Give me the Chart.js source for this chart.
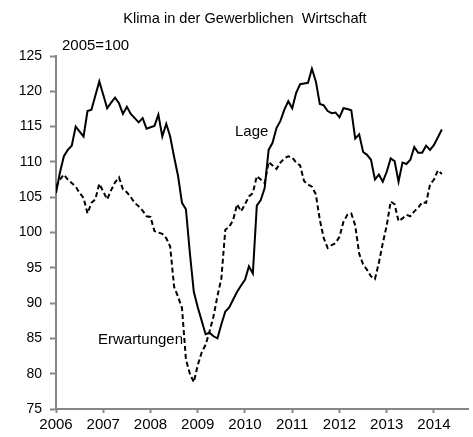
<!DOCTYPE html>
<html>
<head>
<meta charset="utf-8">
<script src="https://cdn.jsdelivr.net/npm/chart.js@4"></script>
<style>
    html, body { margin: 0; padding: 0; background: #fff; }
</style>
</head>
<body>
<canvas id="chart" width="473" height="437"></canvas>
<script>
// monthly index values, Jan 2006 .. Mar 2014 (2005=100)
const startYear = 2006;
const yearTicks = [2006, 2007, 2008, 2009, 2010, 2011, 2012, 2013, 2014];
const lage = [
    105.6, 108.5, 110.8, 111.7, 112.3, 115.0, 114.3, 113.6, 117.2, 117.4, 119.4, 121.4,
    119.5, 117.6, 118.4, 119.1, 118.3, 116.8, 117.8, 116.8, 116.2, 115.6, 116.2, 114.7,
    114.9, 115.1, 116.7, 113.6, 115.4, 113.6, 110.7, 108.0, 104.2, 103.3, 97.1, 91.6,
    89.4, 87.5, 85.6, 85.8, 85.3, 85.0, 87.0, 88.8, 89.4, 90.5, 91.6, 92.5,
    93.3, 95.2, 94.2, 103.8, 104.6, 106.3, 111.7, 112.7, 114.8, 115.8, 117.4, 118.6,
    117.6, 119.8, 121.0, 121.1, 121.2, 123.2, 121.4, 118.2, 118.0, 117.2, 116.9, 117.0,
    116.3, 117.6, 117.5, 117.3, 113.3, 113.9, 111.4, 111.0, 110.3, 107.5, 108.2, 107.2,
    108.6, 110.5, 110.1, 107.2, 109.9, 109.7, 110.3, 112.1, 111.3, 111.3, 112.3, 111.7,
    112.4, 113.5, 114.6
];
const erwartungen = [
    106.5, 107.5, 108.2, 107.5, 107.0, 106.5, 105.6, 104.9, 102.7, 104.2, 104.7, 106.9,
    105.8, 104.7, 106.0, 107.1, 107.8, 106.1, 105.7, 105.0, 104.2, 103.7, 103.1, 102.3,
    102.2, 100.2, 100.0, 99.8, 99.2, 98.0, 92.3, 90.9, 89.3, 82.0, 80.0, 78.8,
    81.2, 83.0, 84.1, 86.0, 88.1, 91.0, 93.5, 100.4, 100.8, 101.8, 104.0, 103.0,
    104.0, 105.1, 105.6, 108.0, 107.5, 107.0, 110.0, 109.5, 109.0, 109.9, 110.5, 110.8,
    110.6, 109.9, 109.5, 107.3, 106.8, 106.5, 105.4, 101.8, 99.2, 97.8, 98.2, 98.5,
    99.4, 101.5, 102.5, 102.7, 101.0, 97.0, 95.5, 94.7, 93.8, 93.4, 95.7, 98.5,
    101.0, 104.4, 104.0, 101.6, 102.0, 102.5, 102.3, 103.0, 103.5, 104.3, 104.2, 106.8,
    107.5, 108.8, 108.3
];
const chartTitle = 'Klima in der Gewerblichen  Wirtschaft';
const baseNote = '2005=100';
const lageLabel = 'Lage';
const erwLabel = 'Erwartungen';

const FONT = '"Liberation Sans", Arial, sans-serif';
const AXIS_GREY = '#868686';

// turn a monthly series into {x: year fraction, y} points
const toPoints = arr => arr.map((v, i) => ({ x: startYear + i / 12, y: v }));

// draws title, base note and the two line labels
const textPlugin = {
    id: 'texts',
    afterDraw(chart) {
        const ctx = chart.ctx;
        ctx.save();
        ctx.fillStyle = '#000';
        ctx.textBaseline = 'middle';
        ctx.font = '14.6px ' + FONT;
        ctx.textAlign = 'center';
        ctx.fillText(chartTitle, 245, 19);
        ctx.font = '15px ' + FONT;
        ctx.textAlign = 'left';
        ctx.fillText(baseNote, 62, 46);
        ctx.fillText(lageLabel, 235, 132);
        ctx.textAlign = 'right';
        ctx.fillText(erwLabel, 183, 340);
        ctx.restore();
    }
};

new Chart(document.getElementById('chart'), {
    type: 'line',
    data: {
        datasets: [
            {
                label: lageLabel,
                data: toPoints(lage),
                borderColor: '#000',
                borderWidth: 2,
                pointRadius: 0,
                fill: false
            },
            {
                label: erwLabel,
                data: toPoints(erwartungen),
                borderColor: '#000',
                borderWidth: 2,
                borderDash: [5, 3],
                pointRadius: 0,
                fill: false
            }
        ]
    },
    options: {
        responsive: false,
        animation: false,
        devicePixelRatio: 1,
        layout: { padding: { top: 56, right: 5, left: 0, bottom: 0 } },
        plugins: {
            legend: { display: false },
            tooltip: { enabled: false }
        },
        elements: { line: { tension: 0 } },
        scales: {
            x: {
                type: 'linear',
                min: 2006,
                max: 2014.72,
                afterBuildTicks: axis => { axis.ticks = yearTicks.map(v => ({ value: v })); },
                afterFit: axis => { axis.height = 28; },
                ticks: {
                    callback: v => String(v),
                    font: { family: FONT, size: 15 },
                    color: '#000',
                    padding: 3,
                    maxRotation: 0,
                    autoSkip: false
                },
                grid: { drawOnChartArea: false, tickLength: 4, color: AXIS_GREY, tickWidth: 2 },
                border: { color: AXIS_GREY, width: 2 }
            },
            y: {
                min: 75,
                max: 125,
                afterFit: axis => { axis.width = 56; },
                ticks: {
                    stepSize: 5,
                    font: { family: FONT, size: 14 },
                    color: '#000',
                    padding: 8
                },
                grid: { drawOnChartArea: false, tickLength: 6, color: AXIS_GREY, tickWidth: 2 },
                border: { color: AXIS_GREY, width: 2 }
            }
        }
    },
    plugins: [textPlugin]
});
</script>
</body>
</html>
